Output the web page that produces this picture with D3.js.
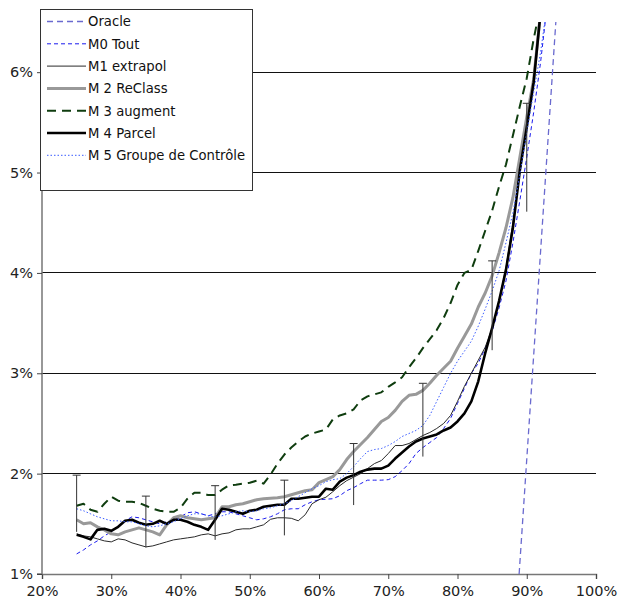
<!DOCTYPE html>
<html>
<head>
<meta charset="utf-8">
<script src="https://cdn.jsdelivr.net/npm/d3@7"></script>
<style>
  body { margin: 0; background: #fff; }
  svg { display: block; font-family: "DejaVu Sans", Verdana, sans-serif; }
</style>
</head>
<body>
<div id="chart"></div>
<script>
// x categories (percent of population), one point per percent
const pct = d3.range(25, 94);

const oracleX = [88.9, 94.2];
const oracleY = [1.0, 6.5];

const m0Tout = [1.2, 1.24, 1.29, 1.33, 1.38, 1.42, 1.48, 1.53, 1.57, 1.56, 1.54, 1.52, 1.5, 1.52, 1.54, 1.57, 1.61, 1.62, 1.6, 1.58,
  1.6, 1.62, 1.62, 1.6, 1.58, 1.56, 1.54, 1.55, 1.57, 1.6, 1.64, 1.65, 1.65, 1.69, 1.72, 1.74, 1.745, 1.75, 1.78, 1.83,
  1.86, 1.9, 1.935, 1.935, 1.935, 1.94, 1.97, 2.03, 2.1, 2.2, 2.26, 2.31, 2.36, 2.45, 2.55, 2.7, 2.85, 3.0, 3.1, 3.25,
  3.42, 3.65, 3.92, 4.3, 4.72, 5.15, 5.6, 6.1, 6.7];

const m1Extrapol = [1.4, 1.38, 1.37, 1.35, 1.33, 1.32, 1.35, 1.34, 1.31, 1.29, 1.27, 1.28, 1.3, 1.32, 1.34, 1.35, 1.36, 1.37, 1.39, 1.4,
  1.38, 1.4, 1.41, 1.44, 1.45, 1.45, 1.47, 1.49, 1.545, 1.56, 1.56, 1.555, 1.53, 1.59, 1.7, 1.74, 1.765, 1.82, 1.88, 1.93,
  1.965, 2.0, 2.05, 2.1, 2.13, 2.2, 2.28, 2.28, 2.3, 2.34, 2.38, 2.41, 2.45, 2.5, 2.58, 2.72, 2.87, 3.0, 3.13, 3.26,
  3.45, 3.72, 4.05, 4.5, 5.0, 5.45, 5.88, 6.6, null];

const m2ReClass = [1.54, 1.5, 1.51, 1.47, 1.44, 1.4, 1.39, 1.42, 1.44, 1.46, 1.44, 1.42, 1.39, 1.49, 1.56, 1.58, 1.56, 1.55, 1.54, 1.55,
  1.56, 1.67, 1.67, 1.69, 1.7, 1.72, 1.74, 1.75, 1.755, 1.76, 1.77, 1.79, 1.81, 1.83, 1.84, 1.91, 1.94, 1.97, 2.04, 2.14,
  2.22, 2.29, 2.36, 2.44, 2.52, 2.56, 2.63, 2.72, 2.78, 2.79, 2.83, 2.9, 2.98, 3.05, 3.12, 3.25, 3.37, 3.49, 3.66, 3.8,
  3.97, 4.2, 4.45, 4.75, 5.15, 5.55, 5.93, 6.6, null];

const m3Augment = [1.68, 1.7, 1.64, 1.62, 1.7, 1.77, 1.73, 1.72, 1.72, 1.71, 1.68, 1.65, 1.63, 1.62, 1.62, 1.66, 1.75, 1.81, 1.81, 1.786,
  1.786, 1.84, 1.885, 1.89, 1.9, 1.91, 1.93, 1.9, 1.99, 2.1, 2.19, 2.26, 2.32, 2.37, 2.4, 2.42, 2.44, 2.54, 2.58, 2.6,
  2.64, 2.73, 2.77, 2.79, 2.81, 2.865, 2.91, 2.96, 3.06, 3.15, 3.25, 3.34, 3.43, 3.55, 3.7, 3.88, 4.0, 4.03, 4.22, 4.42,
  4.62, 4.86, 5.08, 5.37, 5.66, 5.94, 6.33, 6.67, null];

const m4Parcel = [1.39, 1.37, 1.345, 1.44, 1.45, 1.43, 1.47, 1.53, 1.54, 1.51, 1.49, 1.5, 1.53, 1.5, 1.54, 1.54, 1.52, 1.49, 1.47, 1.44,
  1.54, 1.65, 1.64, 1.62, 1.6, 1.63, 1.64, 1.67, 1.68, 1.69, 1.69, 1.75, 1.75, 1.76, 1.77, 1.77, 1.85, 1.84, 1.92, 1.96,
  1.985, 2.02, 2.04, 2.05, 2.05, 2.08, 2.15, 2.21, 2.27, 2.32, 2.35, 2.37, 2.39, 2.43, 2.46, 2.52, 2.6, 2.72, 2.92, 3.2,
  3.45, 3.72, 4.03, 4.45, 5.02, 5.45, 5.9, 6.6, null];

const m5Controle = [1.65, 1.63, 1.6, 1.57, 1.55, 1.53, 1.53, 1.52, 1.52, 1.5, 1.48, 1.47, 1.48, 1.5, 1.52, 1.55, 1.58, 1.6, 1.6, 1.58,
  1.57, 1.58, 1.6, 1.62, 1.63, 1.62, 1.63, 1.65, 1.66, 1.68, 1.7, 1.73, 1.77, 1.81, 1.85, 1.88, 1.92, 1.94, 1.95, 2.0,
  2.07, 2.15, 2.22, 2.24, 2.25, 2.28, 2.32, 2.37, 2.4, 2.43, 2.48, 2.58, 2.72, 2.86, 3.0, 3.12, 3.22, 3.32, 3.47, 3.64,
  3.82, 4.02, 4.3, 4.6, 4.98, 5.4, 5.8, 6.2, 6.7];

// error bars (drawn with a cap on top only)
const errX = [25, 35, 45, 55, 65, 75, 85, 90];
const errLow = [1.42, 1.265, 1.34, 1.385, 1.687, 2.17, 3.23, 4.61];
const errHigh = [1.985, 1.776, 1.88, 1.935, 2.3, 2.9, 4.12, 5.69];

const xTicks = [20, 30, 40, 50, 60, 70, 80, 90, 100];
const yTicks = [1, 2, 3, 4, 5, 6];

const series = [
  { name: "Oracle", xs: oracleX, ys: oracleY, color: "#6a6acf", width: 1.3, dash: "6,4" },
  { name: "M0 Tout", xs: pct, ys: m0Tout, color: "#1a1aee", width: 1, dash: "4,3" },
  { name: "M1 extrapol", xs: pct, ys: m1Extrapol, color: "#2a2a2a", width: 1, dash: null },
  { name: "M 2 ReClass", xs: pct, ys: m2ReClass, color: "#999999", width: 3, dash: null },
  { name: "M 3 augment", xs: pct, ys: m3Augment, color: "#0f3d0f", width: 2, dash: "9,6" },
  { name: "M 4 Parcel", xs: pct, ys: m4Parcel, color: "#000000", width: 2.6, dash: null },
  { name: "M 5 Groupe de Contrôle", xs: pct, ys: m5Controle, color: "#3a5cff", width: 1, dash: "1.5,2" }
];

const W = 618, H = 606;
const plot = { left: 42, right: 596, top: 22, bottom: 574 };

const x = d3.scaleLinear().domain([20, 100]).range([plot.left, plot.right]);
const y = d3.scaleLinear().domain([1, 6.5]).range([plot.bottom, plot.top]);

const svg = d3.select("#chart").append("svg")
  .attr("width", W)
  .attr("height", H);

svg.append("clipPath").attr("id", "plot")
  .append("rect")
  .attr("x", plot.left).attr("y", plot.top)
  .attr("width", plot.right - plot.left + 20).attr("height", plot.bottom - plot.top);

// gridlines
svg.append("g")
  .selectAll("line")
  .data(yTicks.filter(d => d > 1))
  .join("line")
  .attr("x1", plot.left).attr("x2", plot.right)
  .attr("y1", d => y(d)).attr("y2", d => y(d))
  .attr("stroke", "#111")
  .attr("stroke-width", 1)
  .attr("shape-rendering", "crispEdges");

// axes
const xAxis = svg.append("g")
  .attr("transform", `translate(0,${plot.bottom})`)
  .call(d3.axisBottom(x).tickValues(xTicks).tickFormat(d => d + "%").tickSize(5).tickPadding(7));
const yAxis = svg.append("g")
  .attr("transform", `translate(${plot.left},0)`)
  .call(d3.axisLeft(y).tickValues(yTicks).tickFormat(d => d + "%").tickSize(5).tickPadding(4));

[xAxis, yAxis].forEach(g => {
  g.select(".domain").attr("stroke", "#777").attr("stroke-width", 1.5);
  g.selectAll(".tick line").attr("stroke", "#444");
  g.selectAll("text")
    .attr("font-family", "DejaVu Sans, Verdana, sans-serif")
    .attr("font-size", 14.5)
    .attr("fill", "#222");
});
yAxis.select(".domain").attr("d", `M-5,${plot.bottom}H0V${plot.top}`);

// series lines
const line = d3.line()
  .defined(d => d[1] != null)
  .x(d => x(d[0]))
  .y(d => y(d[1]));

svg.append("g")
  .attr("clip-path", "url(#plot)")
  .selectAll("path")
  .data(series)
  .join("path")
  .attr("d", s => line(s.xs.map((v, i) => [v, s.ys[i]])))
  .attr("fill", "none")
  .attr("stroke", s => s.color)
  .attr("stroke-width", s => s.width)
  .attr("stroke-dasharray", s => s.dash)
  .attr("stroke-linejoin", "round");

// error bars
const errs = errX.map((v, i) => ({ x: v, lo: errLow[i], hi: errHigh[i] }));
const eb = svg.append("g").attr("stroke", "#333").attr("stroke-width", 1);
eb.selectAll("line.v")
  .data(errs)
  .join("line")
  .attr("class", "v")
  .attr("x1", d => x(d.x)).attr("x2", d => x(d.x))
  .attr("y1", d => y(d.lo)).attr("y2", d => y(d.hi));
eb.selectAll("line.c")
  .data(errs)
  .join("line")
  .attr("class", "c")
  .attr("x1", d => x(d.x) - 4).attr("x2", d => x(d.x) + 4)
  .attr("y1", d => y(d.hi)).attr("y2", d => y(d.hi));

// legend
const legend = svg.append("g");
legend.append("rect")
  .attr("x", 40.5).attr("y", 9.5)
  .attr("width", 212).attr("height", 181)
  .attr("fill", "#fff")
  .attr("stroke", "#333")
  .attr("stroke-width", 1);

const rowY = i => 21.5 + i * 22.3;
const items = legend.selectAll("g.item")
  .data(series)
  .join("g")
  .attr("class", "item")
  .attr("transform", (d, i) => `translate(0,${rowY(i)})`);
items.append("line")
  .attr("x1", 47).attr("x2", 86)
  .attr("y1", 0).attr("y2", 0)
  .attr("stroke", d => d.color)
  .attr("stroke-width", d => d.width)
  .attr("stroke-dasharray", d => d.dash);
items.append("text")
  .attr("x", 88)
  .attr("y", 4.8)
  .attr("font-size", 13.2)
  .attr("fill", "#111")
  .text(d => d.name);
</script>
</body>
</html>
